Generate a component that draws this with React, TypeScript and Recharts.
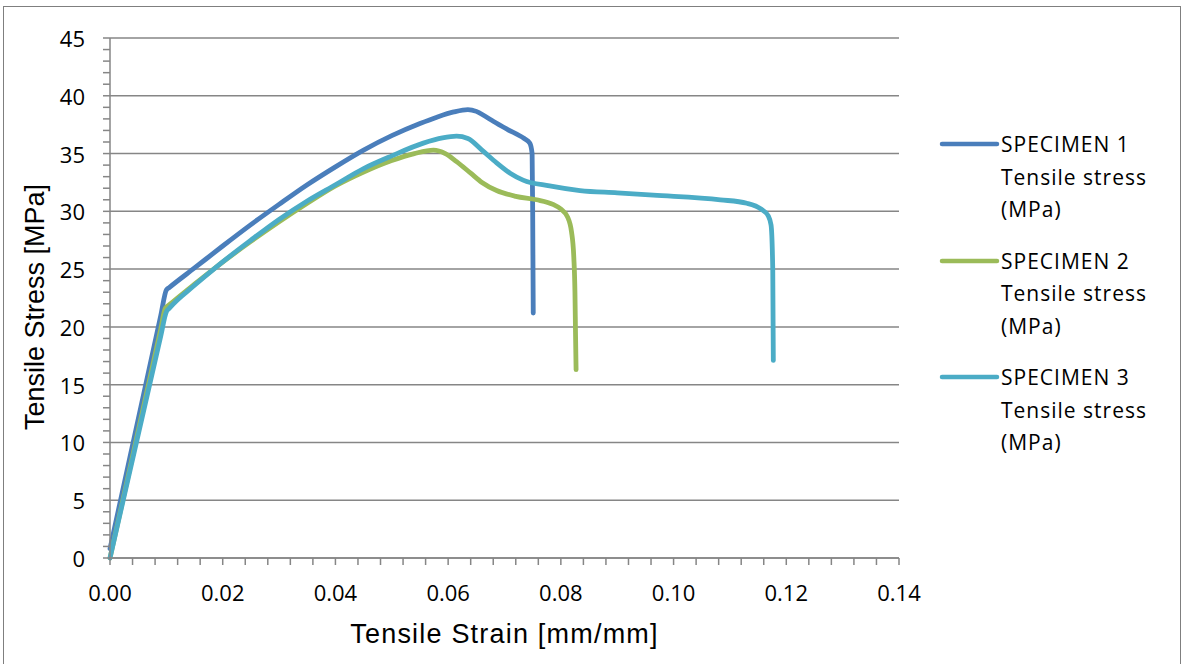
import React from 'react';
import { LineChart, Line, XAxis, YAxis, CartesianGrid, Legend } from 'recharts';

const specimen1 = [
  { x: 0, y: 0.8 },
  { x: 0.009, y: 20.96 },
  { x: 0.01, y: 23.2 },
  { x: 0.0105, y: 23.4 },
  { x: 0.015, y: 25.1 },
  { x: 0.02, y: 27.0 },
  { x: 0.025, y: 28.85 },
  { x: 0.03, y: 30.6 },
  { x: 0.035, y: 32.3 },
  { x: 0.04, y: 33.85 },
  { x: 0.045, y: 35.3 },
  { x: 0.05, y: 36.55 },
  { x: 0.055, y: 37.6 },
  { x: 0.058, y: 38.15 },
  { x: 0.061, y: 38.6 },
  { x: 0.0635, y: 38.8 },
  { x: 0.065, y: 38.65 },
  { x: 0.0665, y: 38.25 },
  { x: 0.068, y: 37.8 },
  { x: 0.0705, y: 37.1 },
  { x: 0.0735, y: 36.3 },
  { x: 0.0745, y: 35.9 },
  { x: 0.0749, y: 35.0 },
  { x: 0.075, y: 30.0 },
  { x: 0.0751, y: 21.2 },
];

const specimen2 = [
  { x: 0, y: 0 },
  { x: 0.009, y: 19.8 },
  { x: 0.0098, y: 21.6 },
  { x: 0.0105, y: 21.9 },
  { x: 0.015, y: 23.7 },
  { x: 0.0189, y: 25.2 },
  { x: 0.025, y: 27.4 },
  { x: 0.03, y: 29.1 },
  { x: 0.035, y: 30.7 },
  { x: 0.04, y: 32.2 },
  { x: 0.045, y: 33.4 },
  { x: 0.05, y: 34.4 },
  { x: 0.054, y: 35.0 },
  { x: 0.0574, y: 35.3 },
  { x: 0.0595, y: 35.0 },
  { x: 0.0615, y: 34.3 },
  { x: 0.064, y: 33.3 },
  { x: 0.066, y: 32.5 },
  { x: 0.0686, y: 31.8 },
  { x: 0.072, y: 31.3 },
  { x: 0.0757, y: 31.0 },
  { x: 0.0786, y: 30.6 },
  { x: 0.08, y: 30.2 },
  { x: 0.0812, y: 29.5 },
  { x: 0.0819, y: 28.2 },
  { x: 0.0823, y: 26.0 },
  { x: 0.0825, y: 23.0 },
  { x: 0.0826, y: 19.5 },
  { x: 0.0827, y: 16.3 },
];

const specimen3 = [
  { x: 0, y: 0 },
  { x: 0.009, y: 19.2 },
  { x: 0.01, y: 21.3 },
  { x: 0.0105, y: 21.6 },
  { x: 0.015, y: 23.6 },
  { x: 0.0189, y: 25.2 },
  { x: 0.025, y: 27.5 },
  { x: 0.03, y: 29.3 },
  { x: 0.035, y: 30.9 },
  { x: 0.04, y: 32.3 },
  { x: 0.045, y: 33.7 },
  { x: 0.05, y: 34.8 },
  { x: 0.0556, y: 35.9 },
  { x: 0.059, y: 36.35 },
  { x: 0.0615, y: 36.5 },
  { x: 0.0635, y: 36.3 },
  { x: 0.066, y: 35.3 },
  { x: 0.0686, y: 34.2 },
  { x: 0.071, y: 33.3 },
  { x: 0.0733, y: 32.7 },
  { x: 0.078, y: 32.2 },
  { x: 0.0834, y: 31.8 },
  { x: 0.09, y: 31.6 },
  { x: 0.0964, y: 31.4 },
  { x: 0.1083, y: 31.0 },
  { x: 0.113, y: 30.7 },
  { x: 0.1155, y: 30.2 },
  { x: 0.1168, y: 29.6 },
  { x: 0.1173, y: 28.8 },
  { x: 0.1176, y: 25.0 },
  { x: 0.1177, y: 17.1 },
];

const seriesNames = [
  'SPECIMEN 1 Tensile stress (MPa)',
  'SPECIMEN 2 Tensile stress (MPa)',
  'SPECIMEN 3 Tensile stress (MPa)',
];
const seriesColors = ['#4A7EBB', '#9BBB59', '#4BACC6'];
const seriesData = [specimen1, specimen2, specimen3];

const yMajorTicks = [0, 5, 10, 15, 20, 25, 30, 35, 40, 45];
const xMajorTicks = [0, 0.02, 0.04, 0.06, 0.08, 0.1, 0.12, 0.14];
const xTickLabels = ['0.00', '0.02', '0.04', '0.06', '0.08', '0.10', '0.12', '0.14'];
const yMinorTicks = Array.from({ length: 46 }, (_, i) => i);
const xMinorTicks = Array.from({ length: 36 }, (_, i) => Math.round(i * 4) / 1000);

const xTitle = 'Tensile Strain [mm/mm]';
const yTitle = 'Tensile Stress [MPa]';

const AXIS_COLOR = '#868686';
const TICK_FONT = "'Open Sans', sans-serif";
const TITLE_FONT = "'Liberation Sans', Arial, sans-serif";

const XTick = (props: any) => {
  const { x, y, payload } = props;
  const idx = xMajorTicks.findIndex((v) => Math.abs(v - payload.value) < 1e-6);
  if (idx < 0) return null;
  return (
    <text x={x} y={y + 25} textAnchor="middle" dominantBaseline="central" fontFamily={TICK_FONT} fontSize={22} fill="#000">
      {xTickLabels[idx]}
    </text>
  );
};

const YTick = (props: any) => {
  const { x, y, payload } = props;
  if (!yMajorTicks.includes(payload.value)) return null;
  return (
    <text x={x - 16} y={y} textAnchor="end" dominantBaseline="central" fontFamily={TICK_FONT} fontSize={22} fill="#000">
      {String(payload.value)}
    </text>
  );
};

const XTitle = (props: any) => {
  const vb = props.viewBox || {};
  return (
    <text x={vb.x + vb.width / 2} y={vb.y + 76} textAnchor="middle" dominantBaseline="central" fontFamily={TITLE_FONT} fontSize={27} letterSpacing={1.2} fill="#000">
      {xTitle}
    </text>
  );
};

const YTitle = (props: any) => {
  const vb = props.viewBox || {};
  const cx = vb.x - 15;
  const cy = vb.y + vb.height / 2 + 9;
  return (
    <text x={cx} y={cy} transform={`rotate(-90 ${cx} ${cy})`} textAnchor="middle" dominantBaseline="central" fontFamily={TITLE_FONT} fontSize={27} fill="#000">
      {yTitle}
    </text>
  );
};

const LegendContent = (props: any) => {
  const payload = props.payload || [];
  return (
    <div style={{ display: 'flex', flexDirection: 'column', gap: 19 }}>
      {payload.map((entry: any, i: number) => (
        <div key={i} style={{ display: 'flex', alignItems: 'flex-start' }}>
          <svg width={63} height={32} style={{ flex: 'none' }}>
            <line x1={4} y1={16} x2={59} y2={16} stroke={entry.color} strokeWidth={4.5} strokeLinecap="round" />
          </svg>
          <div style={{ width: 175, fontFamily: TICK_FONT, fontSize: 21, lineHeight: '32.5px', letterSpacing: 1, color: '#000' }}>
            {entry.value}
          </div>
        </div>
      ))}
    </div>
  );
};

export default function App() {
  return (
    <div style={{ position: 'absolute', left: 0, top: 0, width: 1187, height: 664, background: '#fff', overflow: 'hidden' }}>
      <div style={{ position: 'absolute', left: 3, top: 6, width: 1178, height: 670, border: '1px solid #7f7f7f', boxSizing: 'border-box' }} />
      <div style={{ position: 'absolute', left: 0, top: 0 }}>
        <LineChart width={1187} height={664} margin={{ top: 38, right: 288, bottom: 46, left: 50 }}>
          <CartesianGrid horizontal={true} vertical={false} horizontalValues={yMajorTicks} stroke={AXIS_COLOR} strokeWidth={1.5} />
          <XAxis
            type="number"
            dataKey="x"
            domain={[0, 0.14]}
            ticks={xMinorTicks}
            interval={0}
            tickSize={7}
            tick={<XTick />}
            axisLine={{ stroke: AXIS_COLOR, strokeWidth: 1.5 }}
            tickLine={{ stroke: AXIS_COLOR, strokeWidth: 1.5 }}
            height={60}
            allowDuplicatedCategory={false}
            label={<XTitle />}
          />
          <YAxis
            type="number"
            domain={[0, 45]}
            ticks={yMinorTicks}
            interval={0}
            tickSize={7}
            tick={<YTick />}
            width={60}
            axisLine={{ stroke: AXIS_COLOR, strokeWidth: 1.5 }}
            tickLine={{ stroke: AXIS_COLOR, strokeWidth: 1.5 }}
            label={<YTitle />}
          />
          <Legend
            layout="vertical"
            align="center"
            verticalAlign="middle"
            content={<LegendContent />}
            wrapperStyle={{ left: 938, top: 128, width: 245, height: 340 }}
          />
          {seriesData.map((d, i) => (
            <Line
              key={i}
              data={d}
              dataKey="y"
              name={seriesNames[i]}
              type="monotone"
              stroke={seriesColors[i]}
              strokeWidth={4.8}
              strokeLinejoin="round"
              strokeLinecap="round"
              dot={false}
              activeDot={false}
              isAnimationActive={false}
            />
          ))}
        </LineChart>
      </div>
    </div>
  );
}
